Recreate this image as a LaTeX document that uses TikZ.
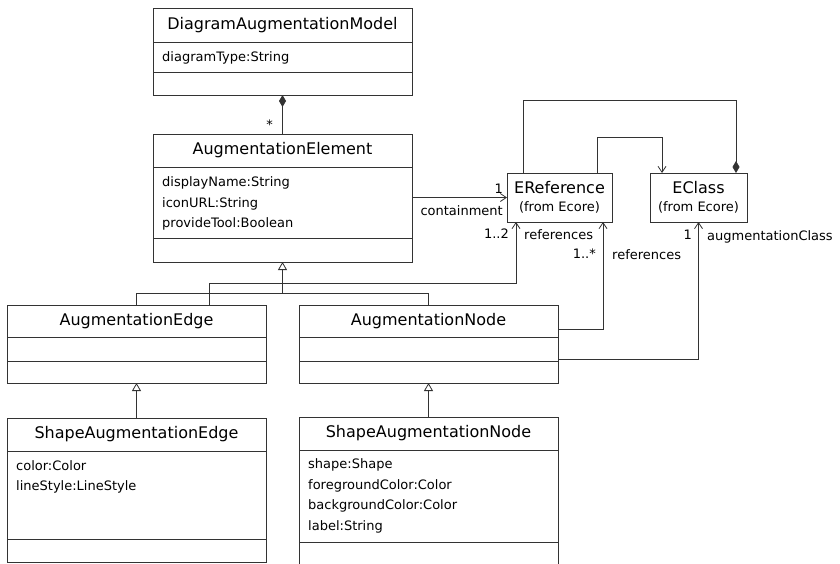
\documentclass[tikz,border=0pt]{standalone}
\usepackage{fontspec}
\setmainfont{DejaVu Sans}
\usepackage{xcolor}
\usepackage{tikz}
\usetikzlibrary{positioning, arrows.meta, calc}

\colorlet{umlline}{black!80}
\newcommand{\namefont}{\fontsize{16}{19}\selectfont}
\newcommand{\attrfont}{\fontsize{13}{20.5}\selectfont}

\begin{document}
\begin{tikzpicture}[
        x=1pt, y=-1pt,
        % Style for the class compartments
        compart/.style={
            draw=umlline,
            line width=0.8pt,
            fill=white,
            outer sep=0pt,
            inner sep=0pt,
            minimum width=259pt
        },
        classname/.style={compart, font=\namefont},
        ecore/.style={compart, align=center, font=\fontsize{13}{18}\selectfont},
        attrtext/.style={inner sep=0pt, align=left, font=\attrfont},
        mult/.style={inner sep=0pt, font=\attrfont},
        % Connector styles
        assoc/.style={draw=umlline, line width=0.8pt, -{Straight Barb[length=6pt, width=8pt]}},
        inherit/.style={draw=umlline, line width=0.8pt, {Triangle[open, length=8pt, width=9pt]}-},
        compose/.style={draw=umlline, line width=0.8pt, {Diamond[length=12pt, width=7pt]}-},
        plain/.style={draw=umlline, line width=0.8pt},
        node distance=0pt % Stack compartments directly on top of each other
    ]

    \clip (0,0) rectangle (840,563);
    \fill[white] (0,0) rectangle (840,563);

    % ==========================================
    % TOP: MODEL AND ELEMENT
    % ==========================================

    \node[classname, minimum height=34pt, anchor=north west] (damName) at (153,8) {DiagramAugmentationModel};
    \node[compart, minimum height=30pt, below=of damName] (damAttr) {};
    \node[compart, minimum height=23pt, below=of damAttr] (damOps) {};
    \node[attrtext, below right=9.5pt and 9pt of damAttr.north west] (damAttrText) {diagramType:String};

    \node[classname, minimum height=33pt, anchor=north west] (aeName) at (153,134) {AugmentationElement};
    \node[compart, minimum height=71pt, below=of aeName] (aeAttr) {};
    \node[compart, minimum height=24pt, below=of aeAttr] (aeOps) {};
    \node[attrtext, below right=9.5pt and 9pt of aeAttr.north west] (aeAttrText) {displayName:String\\iconURL:String\\provideTool:Boolean};

    % ==========================================
    % ECORE CLASSES
    % ==========================================

    \node[ecore, minimum width=105pt, minimum height=49pt, anchor=north west] (erefBox) at (507,173) {{\namefont EReference}\\(from Ecore)};
    \node[ecore, minimum width=97pt, minimum height=49pt, anchor=north west] (eclassBox) at (650,173) {{\namefont EClass}\\(from Ecore)};

    % ==========================================
    % EDGE AND NODE
    % ==========================================

    \node[classname, minimum height=32pt, anchor=north west] (aedgeName) at (7,305) {AugmentationEdge};
    \node[compart, minimum height=24pt, below=of aedgeName] (aedgeAttr) {};
    \node[compart, minimum height=22pt, below=of aedgeAttr] (aedgeOps) {};

    \node[classname, minimum height=32pt, anchor=north west] (anodeName) at (299,305) {AugmentationNode};
    \node[compart, minimum height=24pt, below=of anodeName] (anodeAttr) {};
    \node[compart, minimum height=22pt, below=of anodeAttr] (anodeOps) {};

    % ==========================================
    % SHAPE SUBCLASSES
    % ==========================================

    \node[classname, minimum height=33pt, anchor=north west] (saeName) at (7,418) {ShapeAugmentationEdge};
    \node[compart, minimum height=88pt, below=of saeName] (saeAttr) {};
    \node[compart, minimum height=23pt, below=of saeAttr] (saeOps) {};
    \node[attrtext, below right=9pt and 9pt of saeAttr.north west] (saeAttrText) {color:Color\\lineStyle:LineStyle};

    \node[classname, minimum height=33pt, anchor=north west] (sanName) at (299,417) {ShapeAugmentationNode};
    \node[compart, minimum height=92pt, below=of sanName] (sanAttr) {};
    \node[compart, minimum height=30pt, below=of sanAttr] (sanOps) {};
    \node[attrtext, below right=8.5pt and 9pt of sanAttr.north west] (sanAttrText) {shape:Shape\\foregroundColor:Color\\backgroundColor:Color\\label:String};

    % ==========================================
    % CONNECTORS
    % ==========================================

    % Model owns elements
    \draw[compose] (damOps.south) -- (aeName.north);
    \node[mult, above left=4.5pt and 9.5pt of aeName.north] (ownMult) {*};

    % Generalisation tree
    \coordinate[below=31pt of aeOps.south] (genBus);
    \draw[inherit] (aeOps.south) -- (genBus);
    \draw[plain] (genBus) -| (aedgeName.north);
    \draw[plain] (genBus) -| (anodeName.north);
    \draw[inherit] (aedgeOps.south) -- (saeName.north);
    \draw[inherit] (anodeOps.south) -- (sanName.north);

    % containment
    \draw[assoc] (aeAttr.east |- erefBox.west) -- (erefBox.west);
    \node[mult, above left=4pt and 4pt of erefBox.west] (containMult) {1};
    \node[mult, below left=7.5pt and 4pt of erefBox.west] (containLabel) {containment};

    % Edge references
    \coordinate (edgeRefEnd) at ([xshift=-43.5pt]erefBox.south);
    \draw[assoc] ([xshift=72.5pt]aedgeName.north) -- ++(0,-22) -| (edgeRefEnd);
    \node[mult, below left=7pt and 7pt of edgeRefEnd] (edgeRefMult) {1..2};
    \node[mult, below right=7pt and 8pt of edgeRefEnd] (edgeRefLabel) {references};

    % Node references
    \coordinate (nodeRefEnd) at ([xshift=43.5pt]erefBox.south);
    \draw[assoc] ([yshift=-8pt]anodeName.east) -| (nodeRefEnd);
    \node[mult, below left=27pt and 7pt of nodeRefEnd] (nodeRefMult) {1..*};
    \node[mult, below right=27pt and 9pt of nodeRefEnd] (nodeRefLabel) {references};

    % augmentationClass
    \draw[assoc] ([yshift=-10pt]anodeAttr.east) -| (eclassBox.south);
    \node[mult, below left=8pt and 6.5pt of eclassBox.south] (classMult) {1};
    \node[mult, below right=8pt and 8.5pt of eclassBox.south] (classLabel) {augmentationClass};

    % Ecore links
    \draw[assoc] ([xshift=37.5pt]erefBox.north) -- ++(0,-36) -| ([xshift=-36.5pt]eclassBox.north);
    \draw[compose] ([xshift=37.5pt]eclassBox.north) -- ++(0,-73) -| ([xshift=-36.5pt]erefBox.north);

\end{tikzpicture}
\end{document}
